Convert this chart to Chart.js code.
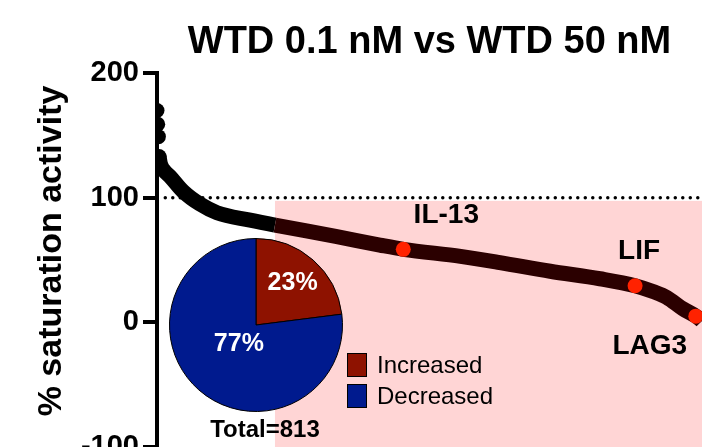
<!DOCTYPE html>
<html>
<head>
<meta charset="utf-8">
<script src="https://cdn.jsdelivr.net/npm/chart.js@4/dist/chart.umd.min.js"></script>
<style>
  body { margin: 0; background: #fff; overflow: hidden; font-family: 'Liberation Sans', Arial, sans-serif; }
  #wrap { position: relative; width: 702px; height: 447px; overflow: hidden; }
  #pieChart { position: absolute; left: 166px; top: 235px; }
  .key { position: absolute; left: 347px; width: 18px; height: 22px; border: 1.5px solid #000; }
  .keyText { position: absolute; left: 377px; font-size: 24px; line-height: 24px; color: #000; }
  #total { position: absolute; left: 165px; width: 200px; top: 416px; text-align: center; font-size: 24px; font-weight: bold; line-height: 26px; }
</style>
</head>
<body>
<div id="wrap">
  <canvas id="myChart" width="702" height="447"></canvas>
  <canvas id="pieChart" width="180" height="180"></canvas>
  <div class="key" style="top:353px;background:#8e1200"></div>
  <div class="keyText" style="top:353px">Increased</div>
  <div class="key" style="top:384px;background:#001a8e"></div>
  <div class="keyText" style="top:384px">Decreased</div>
  <div id="total">Total=813</div>
</div>
<script>
Chart.defaults.font.family = "'Liberation Sans', Arial, sans-serif";
Chart.defaults.color = '#000';

// ranked genes (index in ranking, % saturation activity)
const topIdx = [0, 1, 2, 3];
const topVal = [170, 159, 149, 133];
const curveIdx = [3, 5, 10, 19, 38, 62, 87, 135, 171, 259, 323, 357, 440, 497, 570, 642, 693, 720, 739, 762, 781, 790, 800, 813];
const curveVal = [133, 127, 122, 117, 105, 95, 88, 82, 78, 69, 62, 58.6, 53, 48, 41, 35, 29.4, 24.5, 20, 11, 5, 1, -6, -18];
// highlighted genes
const hlNames = ['IL-13', 'LIF', 'LAG3'];
const hlIdx = [357, 693, 781];
const hlVal = [58.6, 29.4, 5];
// pie
const pieLabels = ['Increased', 'Decreased'];
const pieVals = [23, 77];
const yTicks = [-100, 0, 100, 200];
const shadeFrom = 171;
const shadeTop = 97.5;

const toPts = (xs, ys) => xs.map((x, i) => ({ x: x, y: ys[i] }));

const annotate = {
    id: 'annotate',
    beforeDatasetsDraw(chart) {
        const { ctx, chartArea, scales: { x, y } } = chart;
        ctx.save();
        ctx.fillStyle = '#ffd5d5';
        const x0 = x.getPixelForValue(shadeFrom);
        const y0 = y.getPixelForValue(shadeTop);
        ctx.fillRect(x0, y0, chartArea.right - x0, chartArea.bottom - y0);
        ctx.restore();
    },
    afterDatasetsDraw(chart) {
        const { ctx, scales: { x, y } } = chart;
        const offs = [[43, -34], [4, -34], [-46, 30]];
        ctx.save();
        ctx.fillStyle = '#000';
        ctx.font = "bold 28px 'Liberation Sans', Arial, sans-serif";
        ctx.textAlign = 'center';
        ctx.textBaseline = 'middle';
        hlNames.forEach((n, i) => {
            ctx.fillText(n, x.getPixelForValue(hlIdx[i]) + offs[i][0], y.getPixelForValue(hlVal[i]) + offs[i][1]);
        });
        // y axis title
        ctx.translate(52, 251);
        ctx.rotate(-Math.PI / 2);
        ctx.font = "bold 34px 'Liberation Sans', Arial, sans-serif";
        ctx.fillText('% saturation activity', 0, 0);
        ctx.restore();
    }
};

const ctx = document.getElementById('myChart').getContext('2d');
const myChart = new Chart(ctx, {
    type: 'line',
    data: {
        datasets: [{
            label: 'threshold',
            data: [{ x: 12, y: 100 }, { x: 790, y: 100 }],
            borderColor: '#000',
            borderWidth: 3.5,
            borderDash: [0, 7.5],
            borderCapStyle: 'round',
            pointRadius: 0,
            order: 4
        }, {
            label: 'ranked',
            data: toPts(curveIdx, curveVal),
            borderColor: '#000',
            borderWidth: 15,
            borderCapStyle: 'butt',
            borderJoinStyle: 'round',
            cubicInterpolationMode: 'monotone',
            pointRadius: 0,
            segment: {
                borderColor: c => c.p0.parsed.x >= shadeFrom ? '#2b0000' : '#000'
            },
            order: 3
        }, {
            label: 'top',
            data: toPts(topIdx, topVal),
            showLine: false,
            pointRadius: 7.5,
            pointBackgroundColor: '#000',
            pointBorderWidth: 0,
            order: 2
        }, {
            label: 'genes',
            data: toPts(hlIdx, hlVal),
            showLine: false,
            pointRadius: 7.5,
            pointBackgroundColor: '#ff2200',
            pointBorderWidth: 0,
            order: 1
        }]
    },
    options: {
        responsive: false,
        animation: false,
        events: [],
        layout: { padding: 0, autoPadding: false },
        plugins: {
            legend: { display: false },
            tooltip: { enabled: false },
            title: {
                display: true,
                text: 'WTD 0.1 nM vs WTD 50 nM',
                fullSize: false,
                font: { size: 38, weight: 'bold', lineHeight: 1.2 },
                padding: { top: 19.5, bottom: 8 }
            }
        },
        scales: {
            x: {
                type: 'linear',
                display: false,
                min: 0,
                max: 790
            },
            y: {
                min: -100,
                max: 200,
                afterBuildTicks: s => { s.ticks = yTicks.map(v => ({ value: v })); },
                afterFit: s => { s.width = 157; s.paddingTop = 0; s.paddingBottom = 0; },
                ticks: {
                    font: { size: 29, weight: 'bold' },
                    color: '#000',
                    padding: 4
                },
                grid: {
                    drawOnChartArea: false,
                    color: '#000',
                    lineWidth: 4,
                    tickWidth: 4,
                    tickLength: 14
                },
                border: { color: '#000', width: 4 }
            }
        }
    },
    plugins: [annotate]
});

const pieText = {
    id: 'pieText',
    afterDatasetsDraw(chart) {
        const { ctx } = chart;
        const fr = [0.64, 0.3];
        ctx.save();
        ctx.fillStyle = '#fff';
        ctx.font = "bold 25px 'Liberation Sans', Arial, sans-serif";
        ctx.textAlign = 'center';
        ctx.textBaseline = 'middle';
        chart.getDatasetMeta(0).data.forEach((arc, i) => {
            const p = arc.getProps(['x', 'y', 'startAngle', 'endAngle', 'outerRadius'], true);
            const a = (p.startAngle + p.endAngle) / 2;
            const r = p.outerRadius * fr[i];
            ctx.fillText(pieVals[i] + '%', p.x + Math.cos(a) * r, p.y + Math.sin(a) * r);
        });
        ctx.restore();
    }
};

const pie = new Chart(document.getElementById('pieChart'), {
    type: 'pie',
    data: {
        labels: pieLabels,
        datasets: [{
            data: pieVals,
            backgroundColor: ['#8e1200', '#001a8e'],
            borderColor: '#000',
            borderWidth: 1
        }]
    },
    options: {
        responsive: false,
        animation: false,
        events: [],
        radius: 86.5,
        layout: { padding: 0, autoPadding: false },
        plugins: { legend: { display: false }, tooltip: { enabled: false } }
    },
    plugins: [pieText]
});
</script>
</body>
</html>
